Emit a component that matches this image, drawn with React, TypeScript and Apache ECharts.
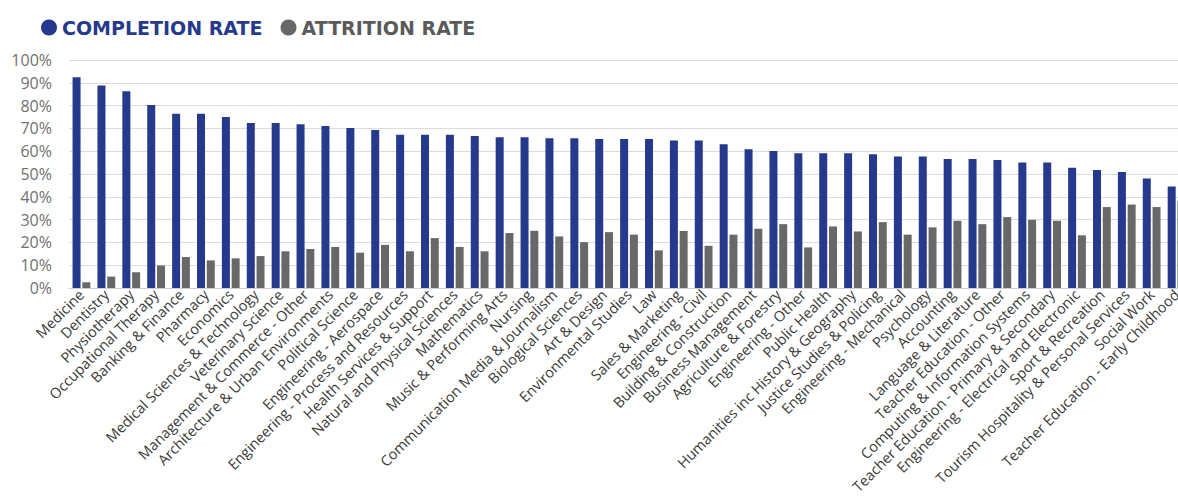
import React, { useEffect, useRef } from "react";
import * as echarts from "echarts";

const categories: string[] = [
  "Medicine",
  "Dentistry",
  "Physiotherapy",
  "Occupational Therapy",
  "Banking & Finance",
  "Pharmacy",
  "Economics",
  "Medical Sciences & Technology",
  "Veterinary Science",
  "Management & Commerce - Other",
  "Architecture & Urban Environments",
  "Political Science",
  "Engineering - Aerospace",
  "Engineering - Process and Resources",
  "Health Services & Support",
  "Natural and Physical Sciences",
  "Mathematics",
  "Music & Performing Arts",
  "Nursing",
  "Communication Media & Journalism",
  "Biological Sciences",
  "Art & Design",
  "Environmental Studies",
  "Law",
  "Sales & Marketing",
  "Engineering - Civil",
  "Building & Construction",
  "Business Management",
  "Agriculture & Forestry",
  "Engineering - Other",
  "Public Health",
  "Humanities inc History & Geography",
  "Justice Studies & Policing",
  "Engineering - Mechanical",
  "Psychology",
  "Accounting",
  "Language & Literature",
  "Teacher Education - Other",
  "Computing & Information Systems",
  "Teacher Education - Primary & Secondary",
  "Engineering - Electrical and Electronic",
  "Sport & Recreation",
  "Tourism Hospitality & Personal Services",
  "Social Work",
  "Teacher Education - Early Childhood",
];

const completionRate: number[] = [
  92.4, 88.8, 86.3, 80.3, 76.4, 76.4, 75.0, 72.4, 72.4, 71.8,
  71.1, 70.2, 69.3, 67.2, 67.2, 67.2, 66.7, 66.1, 66.1, 65.7,
  65.7, 65.3, 65.3, 65.3, 64.7, 64.7, 63.1, 60.9, 60.1, 59.1,
  59.1, 59.1, 58.7, 57.7, 57.7, 56.6, 56.6, 56.1, 55.0, 55.0,
  52.7, 51.7, 50.9, 48.0, 44.5,
];

const attritionRate: number[] = [
  2.5, 5.0, 6.9, 9.9, 13.6, 12.1, 13.0, 14.0, 16.1, 17.1,
  18.0, 15.5, 18.9, 16.1, 21.9, 18.0, 16.1, 24.1, 25.1, 22.6,
  20.1, 24.5, 23.4, 16.5, 25.0, 18.5, 23.4, 26.0, 28.0, 17.8,
  27.0, 24.8, 28.9, 23.4, 26.6, 29.5, 28.0, 31.1, 29.9, 29.5,
  23.1, 35.5, 36.6, 35.5, 38.0,
];

const yTicks: number[] = [0, 10, 20, 30, 40, 50, 60, 70, 80, 90, 100];

const BLUE = "#253a8c";
const GRAY = "#686868";

export default function App() {
  const ref = useRef<HTMLDivElement>(null);

  useEffect(() => {
    if (!ref.current) return;
    const chart = echarts.init(ref.current, undefined, { renderer: "svg" });
    chart.setOption({
      animation: false,
      backgroundColor: "#ffffff",
      legend: {
        left: 36,
        top: 13,
        icon: "circle",
        itemWidth: 16,
        itemHeight: 16,
        itemGap: 18,
        textStyle: {
          fontFamily: "DejaVu Sans",
          fontWeight: "bold",
          fontSize: 19,
        },
        data: [
          { name: "COMPLETION RATE", textStyle: { color: BLUE } },
          { name: "ATTRITION RATE", textStyle: { color: "#5a5a5a" } },
        ],
      },
      grid: {
        left: 69,
        right: 2,
        top: 60,
        bottom: 209,
        containLabel: false,
      },
      xAxis: {
        type: "category",
        data: categories,
        axisTick: { show: false },
        axisLine: { show: true, lineStyle: { color: "#d0d0d0", width: 1 } },
        axisLabel: {
          interval: 0,
          rotate: 45,
          margin: 4,
          fontFamily: "Open Sans",
          fontSize: 14.5,
          color: "#3a3a3a",
        },
      },
      yAxis: {
        type: "value",
        min: yTicks[0],
        max: yTicks[yTicks.length - 1],
        interval: 10,
        axisLine: { show: false },
        axisTick: { show: false },
        splitLine: { lineStyle: { color: "#dcdcdc", width: 1 } },
        axisLabel: {
          margin: 17,
          fontFamily: "Open Sans",
          fontSize: 16,
          color: "#707070",
          formatter: (v: number) => `${v}%`,
        },
      },
      series: [
        {
          name: "COMPLETION RATE",
          type: "bar",
          data: completionRate,
          barWidth: 8,
          barGap: "22%",
          itemStyle: { color: BLUE },
        },
        {
          name: "ATTRITION RATE",
          type: "bar",
          data: attritionRate,
          barWidth: 8,
          itemStyle: { color: GRAY },
        },
      ],
    });
    return () => chart.dispose();
  }, []);

  return (
    <div
      style={{
        position: "absolute",
        left: 0,
        top: 0,
        width: 1178,
        height: 497,
        overflow: "hidden",
      }}
    >
      <div ref={ref} style={{ width: 1191, height: 497 }} />
    </div>
  );
}
